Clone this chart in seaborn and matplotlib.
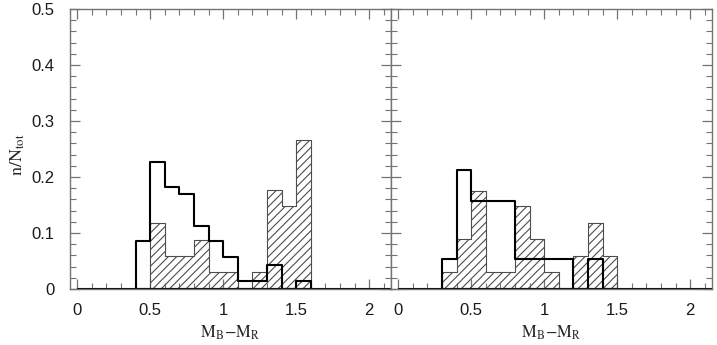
import numpy as np
import pandas as pd
import matplotlib
matplotlib.use('Agg')
import matplotlib.pyplot as plt
import seaborn as sns
from matplotlib.ticker import MultipleLocator

# ==================== DONNEES ====================
# panneau gauche: bords des classes (largeur 0.1)
left_edges = [0.4, 0.5, 0.6, 0.7, 0.8, 0.9, 1.0, 1.1, 1.2, 1.3, 1.4, 1.5, 1.6]
left_open = [0.086, 0.227, 0.183, 0.170, 0.113, 0.086, 0.057, 0.014, 0.014, 0.043, 0.0, 0.015]
left_hatched = [0.0, 0.118, 0.059, 0.059, 0.088, 0.030, 0.030, 0.0, 0.030, 0.177, 0.148, 0.266]

# panneau droit
right_edges = [0.3, 0.4, 0.5, 0.6, 0.7, 0.8, 0.9, 1.0, 1.1, 1.2, 1.3, 1.4, 1.5]
right_open = [0.054, 0.212, 0.158, 0.158, 0.158, 0.054, 0.054, 0.054, 0.054, 0.0, 0.054, 0.0]
right_hatched = [0.030, 0.089, 0.176, 0.030, 0.030, 0.148, 0.089, 0.030, 0.0, 0.059, 0.118, 0.059]

x_ticks = [0, 0.5, 1, 1.5, 2]
x_tick_labels = ['0', '0.5', '1', '1.5', '2']
y_ticks = [0, 0.1, 0.2, 0.3, 0.4, 0.5]
y_tick_labels = ['0', '0.1', '0.2', '0.3', '0.4', '0.5']

# ==================== STYLE ====================
sns.set_style('ticks')
plt.rcParams['font.family'] = ['Liberation Sans', 'DejaVu Sans']
plt.rcParams['mathtext.fontset'] = 'stix'
plt.rcParams['hatch.linewidth'] = 0.8

fig, axes = plt.subplots(1, 2, figsize=(7.17, 3.45), dpi=100, sharey=True)
fig.subplots_adjust(left=0.0976, right=0.993, bottom=0.162, top=0.974, wspace=0)

panels = [
    (axes[0], left_edges, left_open, left_hatched),
    (axes[1], right_edges, right_open, right_hatched),
]

for ax, edges, h_open, h_hatch in panels:
    e = np.array(edges)
    df = pd.DataFrame({'x': (e[:-1] + e[1:]) / 2, 'open': h_open, 'hatch': h_hatch})

    # histogramme hachuré (contour + hachures)
    sns.histplot(data=df, x='x', weights='hatch', bins=list(edges), element='step',
                 fill=True, color='0.3', linewidth=0.8, ax=ax)
    poly = ax.collections[-1]
    poly.set_facecolor('none')
    poly.set_edgecolor('0.3')
    poly.set_hatch('////')
    poly.set_linewidth(0.8)

    # histogramme ouvert (trait noir)
    sns.histplot(data=df, x='x', weights='open', bins=list(edges), element='step',
                 fill=True, color='black', linewidth=1.5, ax=ax)
    poly = ax.collections[-1]
    poly.set_facecolor('none')
    poly.set_edgecolor('black')
    poly.set_linewidth(1.5)

    ax.plot([0, 2.15], [0, 0], color='black', linewidth=1.5, solid_capstyle='butt')

    ax.set_xlim(-0.05, 2.15)
    ax.set_ylim(0, 0.5)
    ax.set_xticks(x_ticks)
    ax.set_xticklabels(x_tick_labels)
    ax.xaxis.set_minor_locator(MultipleLocator(0.1))
    ax.yaxis.set_minor_locator(MultipleLocator(0.02))
    ax.tick_params(which='both', direction='in', top=True, right=True,
                   color='0.45', labelsize=12, labelcolor='0.1')
    ax.tick_params(axis='x', pad=10)
    ax.tick_params(axis='y', pad=11)
    ax.tick_params(which='major', length=7.5, width=0.9)
    ax.tick_params(which='minor', length=4, width=0.8)
    for sp in ax.spines.values():
        sp.set_color('0.45')
        sp.set_linewidth(1.0)
    ax.set_xlabel(r'$\mathrm{M_B\!-\!M_R}$', fontsize=12, labelpad=4)
    ax.set_ylabel('')

axes[0].set_yticks(y_ticks)
axes[0].set_yticklabels(y_tick_labels)
axes[0].set_ylabel(r'$\mathrm{n/N_{tot}}$', fontsize=13)
axes[0].yaxis.set_label_coords(-0.135, 0.48)
axes[1].tick_params(labelleft=False)

plt.savefig('out.png', dpi=100)
